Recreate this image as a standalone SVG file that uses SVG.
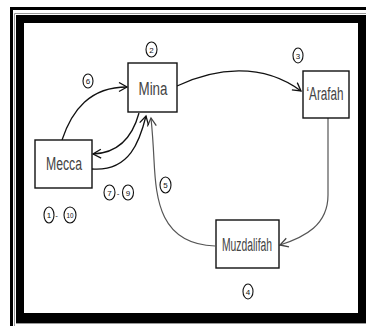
<svg xmlns="http://www.w3.org/2000/svg" width="366" height="326" viewBox="0 0 366 326">
<defs>
<marker id="ah" markerUnits="userSpaceOnUse" markerWidth="12" markerHeight="12" refX="9" refY="5" orient="auto">
<path d="M1,0.5 L9,5 L1,9.5" fill="none" stroke="#111" stroke-width="1.3"/>
</marker>
<marker id="ahg" markerUnits="userSpaceOnUse" markerWidth="12" markerHeight="12" refX="9" refY="5" orient="auto">
<path d="M1,0.5 L9,5 L1,9.5" fill="none" stroke="#444" stroke-width="1.3"/>
</marker>
<style>
.box{fill:#fff;stroke:#111;stroke-width:1.4}
.lbl{font-family:"Liberation Sans",Arial,sans-serif;font-size:18px;fill:#444;text-anchor:middle}
.num{font-family:"Liberation Sans",Arial,sans-serif;font-size:8px;fill:#111;text-anchor:middle}
.ov{fill:#fff;stroke:#111;stroke-width:1.1}
.c{fill:none;stroke:#111;stroke-width:1.3}
.g{fill:none;stroke:#555;stroke-width:1.2}
</style>
</defs>
<rect width="366" height="326" fill="#fff"/>
<g id="frame">
<path d="M11.5,326 V8.5 H366" fill="none" stroke="#000" stroke-width="3"/>
<path d="M14.5,326 V13.5 H366" fill="none" stroke="#999" stroke-width="1"/>
<rect x="20" y="19" width="342" height="298" fill="none" stroke="#000" stroke-width="8"/>
<line x1="16" y1="322" x2="366" y2="322" stroke="#000" stroke-width="2"/>
<line x1="16" y1="323.5" x2="366" y2="323.5" stroke="#999" stroke-width="1"/>
</g>
<g id="connectors">
<path class="c" d="M177,86 C215,68 262,62 301,91" marker-end="url(#ah)"/>
<path class="g" d="M328,118 L328,195 C328,225 305,237 280,245" marker-end="url(#ahg)"/>
<path class="g" d="M215,246 C160,244 156,200 154,160 C153,140 152,128 151,118" marker-end="url(#ahg)"/>
<path class="c" d="M62,140 C72,110 90,87 127,87" marker-end="url(#ah)"/>
<path class="c" d="M139,113 C133,135 120,153 93,154" marker-end="url(#ah)"/>
<path class="c" d="M92,169 C130,172 140,140 146,116" marker-end="url(#ah)"/>
</g>
<g id="mina">
<rect class="box" x="128" y="63" width="49" height="49"/>
<text class="lbl" x="153" y="95" textLength="29" lengthAdjust="spacingAndGlyphs">Mina</text>
</g>
<g id="arafah">
<rect class="box" x="303" y="71" width="46" height="47"/>
<text class="lbl" x="325" y="100" textLength="37" lengthAdjust="spacingAndGlyphs">‘Arafah</text>
</g>
<g id="mecca">
<rect class="box" x="35" y="140" width="57" height="48"/>
<text class="lbl" x="64" y="170" textLength="36" lengthAdjust="spacingAndGlyphs">Mecca</text>
</g>
<g id="muzdalifah">
<rect class="box" x="216" y="220" width="63" height="48"/>
<text class="lbl" x="247" y="251" textLength="50" lengthAdjust="spacingAndGlyphs">Muzdalifah</text>
</g>
<g id="labels">
<ellipse class="ov" cx="151.5" cy="49.5" rx="5.5" ry="7.5"/><text class="num" x="151.5" y="52.5">2</text>
<ellipse class="ov" cx="298" cy="55.5" rx="5" ry="7.5"/><text class="num" x="298" y="58.5">3</text>
<ellipse class="ov" cx="88" cy="81" rx="5" ry="7"/><text class="num" x="88" y="84">6</text>
<ellipse class="ov" cx="109.5" cy="192.5" rx="5.5" ry="7.5"/><text class="num" x="109.5" y="195.5">7</text>
<text class="num" x="118" y="195.5">-</text>
<ellipse class="ov" cx="128" cy="192.5" rx="5.5" ry="7.5"/><text class="num" x="128" y="195.5">9</text>
<ellipse class="ov" cx="49" cy="215" rx="5" ry="8"/><text class="num" x="49" y="218">1</text>
<text class="num" x="56.5" y="218">-</text>
<ellipse class="ov" cx="70" cy="215" rx="6" ry="8"/><text class="num" x="70" y="217.5" textLength="7" lengthAdjust="spacingAndGlyphs">10</text>
<ellipse class="ov" cx="165.5" cy="185" rx="5.5" ry="8"/><text class="num" x="165.5" y="188">5</text>
<ellipse class="ov" cx="248" cy="291.5" rx="5" ry="7.5"/><text class="num" x="248" y="294.5">4</text>
</g>
</svg>
